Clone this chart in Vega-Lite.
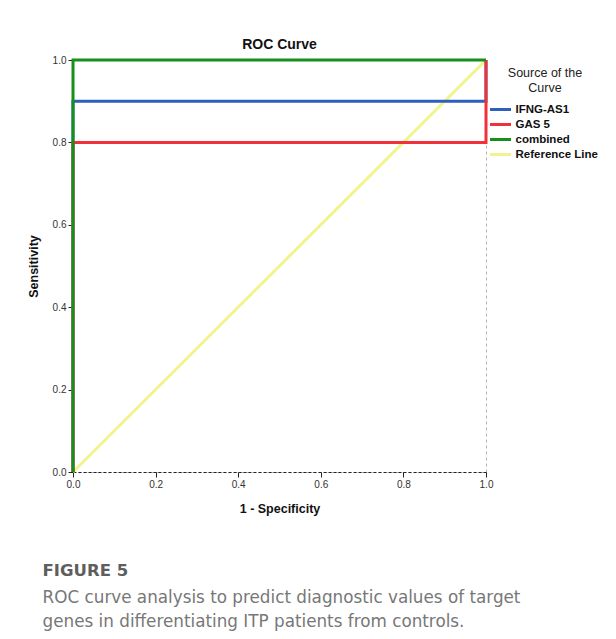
{
  "$schema": "https://vega.github.io/schema/vega-lite/v6.json",
  "background": "white",
  "padding": {"left": 26, "top": 37, "right": 5, "bottom": 5},
  "title": {
    "text": "FIGURE 5",
    "subtitle": ["ROC curve analysis to predict diagnostic values of target", "genes in differentiating ITP patients from controls."],
    "orient": "bottom",
    "anchor": "start",
    "dx": 16,
    "offset": 48,
    "font": "DejaVu Sans",
    "fontSize": 16.5,
    "fontWeight": "bold",
    "color": "#5e5e5e",
    "subtitleFont": "DejaVu Sans",
    "subtitleFontSize": 16.8,
    "subtitleColor": "#777777",
    "subtitleLineHeight": 24,
    "subtitlePadding": 10
  },
  "vconcat": [
    {
      "width": 413,
      "height": 412,
      "title": {"text": "ROC Curve", "font": "Liberation Sans", "fontSize": 14, "fontWeight": "bold", "color": "#111", "offset": 2},
      "data": {"values": [
        {"series": "Reference Line", "x": 0, "y": 0, "o": 1},
        {"series": "Reference Line", "x": 1, "y": 1, "o": 2},
        {"series": "IFNG-AS1", "x": 0, "y": 0, "o": 1},
        {"series": "IFNG-AS1", "x": 0, "y": 0.9, "o": 2},
        {"series": "IFNG-AS1", "x": 1, "y": 0.9, "o": 3},
        {"series": "IFNG-AS1", "x": 1, "y": 1, "o": 4},
        {"series": "GAS 5", "x": 0, "y": 0, "o": 1},
        {"series": "GAS 5", "x": 0, "y": 0.8, "o": 2},
        {"series": "GAS 5", "x": 1, "y": 0.8, "o": 3},
        {"series": "GAS 5", "x": 1, "y": 1, "o": 4},
        {"series": "combined", "x": 0, "y": 0, "o": 1},
        {"series": "combined", "x": 0, "y": 1, "o": 2},
        {"series": "combined", "x": 1, "y": 1, "o": 3}
      ]},
      "mark": {"type": "line", "strokeCap": "butt"},
      "encoding": {
        "x": {"field": "x", "type": "quantitative", "scale": {"domain": [0, 1], "nice": false},
          "axis": {"title": "1 - Specificity", "values": [0, 0.2, 0.4, 0.6, 0.8, 1], "format": ".1f", "domainDash": [3, 2], "labelFlush": false, "titlePadding": 13}},
        "y": {"field": "y", "type": "quantitative", "scale": {"domain": [0, 1], "nice": false},
          "axis": {"title": "Sensitivity", "values": [0, 0.2, 0.4, 0.6, 0.8, 1], "format": ".1f", "titlePadding": 12}},
        "order": {"field": "o"},
        "color": {"field": "series", "type": "nominal",
          "scale": {"domain": ["IFNG-AS1", "GAS 5", "combined", "Reference Line"], "range": ["#2f5fbd", "#f2303a", "#16901a", "#f3f38e"]},
          "legend": {"title": ["Source of the", "Curve"]}},
        "strokeWidth": {"field": "series", "type": "nominal",
          "scale": {"domain": ["IFNG-AS1", "GAS 5", "combined", "Reference Line"], "range": [3, 3, 3, 1.3]},
          "legend": {"title": ["Source of the", "Curve"]}}
      }
    }
  ],
  "config": {
    "view": {"stroke": "#b0b0b0", "strokeDash": [3, 3], "strokeWidth": 1},
    "axis": {
      "grid": false,
      "labelFont": "Liberation Sans",
      "labelFontSize": 10,
      "labelColor": "#333",
      "labelPadding": 2,
      "tickSize": 5,
      "tickColor": "#222",
      "domainColor": "#222",
      "titleFont": "Liberation Sans",
      "titleFontSize": 12.5,
      "titleFontWeight": "bold",
      "titleColor": "#111"
    },
    "legend": {
      "orient": "right",
      "offset": -9.5,
      "padding": 7,
      "symbolType": "M-1.5,0L1.5,0",
      "symbolSize": 196,
      "symbolStrokeWidth": 3,
      "titleFont": "Liberation Sans",
      "titleFontSize": 12.5,
      "titleFontWeight": "normal",
      "titleColor": "#222",
      "titleAlign": "center",
      "titleAnchor": "middle",
      "titlePadding": 7,
      "labelFont": "Liberation Sans",
      "labelFontSize": 11.5,
      "labelFontWeight": "bold",
      "labelColor": "#111",
      "labelOffset": 6.5,
      "rowPadding": -0.8
    }
  }
}
